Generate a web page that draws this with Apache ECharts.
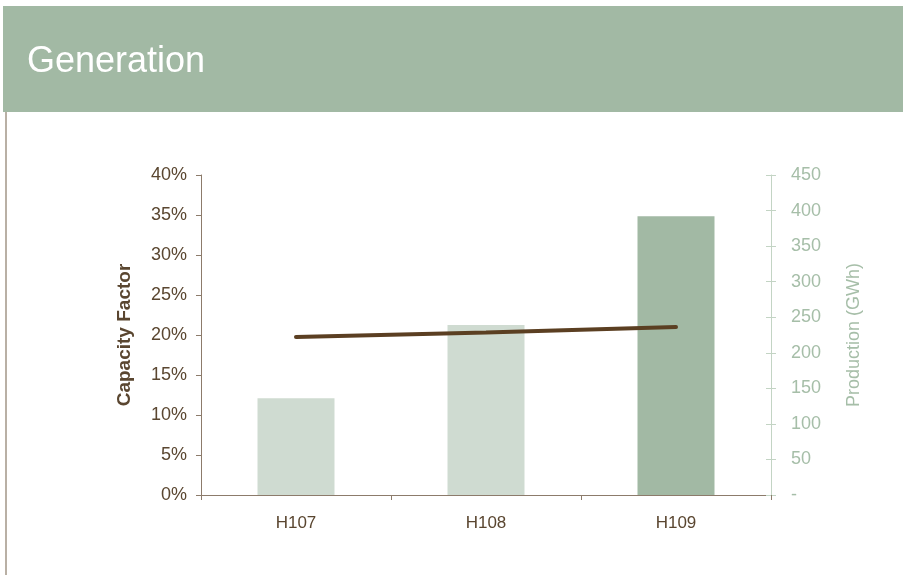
<!DOCTYPE html>
<html>
<head>
<meta charset="utf-8">
<script src="https://cdn.jsdelivr.net/npm/echarts@6/dist/echarts.min.js"></script>
<style>
  html, body { margin: 0; padding: 0; background: #ffffff; }
  #chart { width: 903px; height: 575px; }
</style>
</head>
<body>
<div id="chart"></div>
<script>
// Half-year periods on the category axis
var categories = ['H107', 'H108', 'H109'];
// Energy produced per period, GWh (right axis)
var production = [136, 239, 392];
// Capacity factor per period, fraction (left axis)
var capacityFactor = [0.1975, 0.203, 0.210];
// Colours of the production bars per period
var barColors = ['#cfdbd1', '#cfdbd1', '#a2b9a4'];

var FONT = '"Liberation Sans", Arial, sans-serif';
var BROWN = '#5a4630';
var GREEN_TEXT = '#a6bea8';

var chart = echarts.init(document.getElementById('chart'), null, { renderer: 'canvas' });

var option = {
  backgroundColor: '#ffffff',
  animation: false,
  textStyle: { fontFamily: FONT },
  graphic: [
    { type: 'rect', shape: { x: 3, y: 6, width: 900, height: 106 }, style: { fill: '#a2b9a4' }, z: 0 },
    { type: 'rect', shape: { x: 5, y: 112, width: 2, height: 463 }, style: { fill: '#b9b0a5' }, z: 0 },
    { type: 'text', left: 27, top: 44, style: { text: 'Generation', fill: '#ffffff', font: '36px ' + FONT }, z: 10 }
  ],
  grid: { left: 201, right: 132, top: 175, bottom: 80 },
  xAxis: {
    type: 'category',
    data: categories,
    boundaryGap: true,
    axisLine: { lineStyle: { color: '#8c7b6b', width: 1 } },
    axisTick: { show: true, alignWithLabel: false, length: 5, lineStyle: { color: '#8c7b6b' } },
    axisLabel: { color: BROWN, fontSize: 17, margin: 20, fontFamily: FONT }
  },
  yAxis: [
    {
      type: 'value',
      min: 0, max: 0.4, interval: 0.05,
      position: 'left',
      name: 'Capacity Factor',
      nameLocation: 'middle',
      nameGap: 67,
      nameRotate: 90,
      nameTextStyle: { color: BROWN, fontSize: 19, fontWeight: 'bold', fontFamily: FONT },
      axisLine: { show: true, lineStyle: { color: '#8c7b6b' } },
      axisTick: { show: true, length: 5, lineStyle: { color: '#8c7b6b' } },
      axisLabel: {
        color: BROWN, fontSize: 18, margin: 14, fontFamily: FONT,
        formatter: function (v) { return Math.round(v * 100) + '%'; }
      },
      splitLine: { show: false }
    },
    {
      type: 'value',
      min: 0, max: 450, interval: 50,
      position: 'right',
      name: 'Production (GWh)',
      nameLocation: 'middle',
      nameGap: 74,
      nameRotate: 90,
      nameTextStyle: { color: GREEN_TEXT, fontSize: 18, fontFamily: FONT },
      axisLine: { show: true, lineStyle: { color: '#c3d4c4' } },
      axisTick: { show: true, length: 5, lineStyle: { color: '#c3d4c4' } },
      axisLabel: {
        color: GREEN_TEXT, fontSize: 18, margin: 20, fontFamily: FONT,
        formatter: function (v) { return v === 0 ? '-' : String(v); }
      },
      splitLine: { show: false }
    },
    {
      // inner half of the crossing ticks on the right axis
      type: 'value',
      min: 0, max: 450, interval: 50,
      position: 'right',
      axisLine: { show: false },
      axisTick: { show: true, inside: true, length: 5, lineStyle: { color: '#c3d4c4' } },
      axisLabel: { show: false },
      splitLine: { show: false }
    }
  ],
  series: [
    {
      name: 'Production',
      type: 'bar',
      yAxisIndex: 1,
      barWidth: 77,
      data: production.map(function (v, i) {
        return { value: v, itemStyle: { color: barColors[i] } };
      }),
      z: 2
    },
    {
      name: 'Capacity Factor',
      type: 'line',
      yAxisIndex: 0,
      data: capacityFactor,
      symbol: 'none',
      lineStyle: { color: '#5b3f22', width: 4, cap: 'round' },
      z: 3
    }
  ]
};

chart.setOption(option);
</script>
</body>
</html>
